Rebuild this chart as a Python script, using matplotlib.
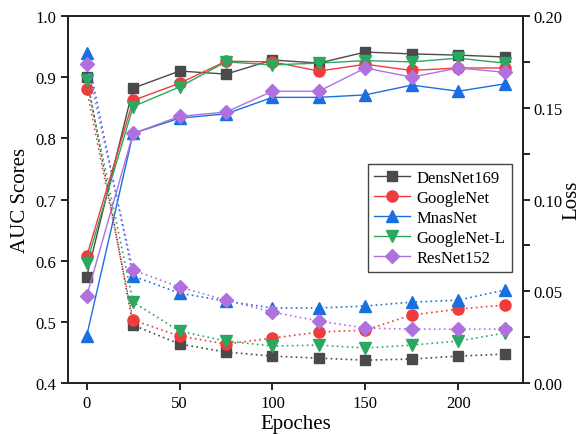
import matplotlib
matplotlib.use("Agg")
import matplotlib.pyplot as plt
from matplotlib.ticker import MultipleLocator

# Данные
epochs = [0, 25, 50, 75, 100, 125, 150, 175, 200, 225]
models = ["DensNet169", "GoogleNet", "MnasNet", "GoogleNet-L", "ResNet152"]

auc_dens = [0.574, 0.882, 0.910, 0.905, 0.928, 0.923, 0.941, 0.938, 0.936, 0.933]
auc_goog = [0.607, 0.862, 0.890, 0.926, 0.925, 0.910, 0.921, 0.911, 0.915, 0.915]
auc_mnas = [0.477, 0.808, 0.833, 0.840, 0.867, 0.867, 0.871, 0.887, 0.877, 0.889]
auc_googl = [0.596, 0.852, 0.884, 0.925, 0.920, 0.923, 0.927, 0.925, 0.931, 0.923]
auc_res = [0.542, 0.808, 0.836, 0.843, 0.877, 0.877, 0.915, 0.900, 0.915, 0.908]

loss_dens = [0.167, 0.0316, 0.0213, 0.0169, 0.0147, 0.0136, 0.0125, 0.0131, 0.0147, 0.0158]
loss_goog = [0.160, 0.0343, 0.0256, 0.0213, 0.0245, 0.0278, 0.0289, 0.0371, 0.0403, 0.0425]
loss_mnas = [0.180, 0.0583, 0.0490, 0.0447, 0.0409, 0.0409, 0.0420, 0.0441, 0.0452, 0.0507]
loss_googl = [0.165, 0.0441, 0.0283, 0.0229, 0.0202, 0.0207, 0.0191, 0.0207, 0.0229, 0.0273]
loss_res = [0.174, 0.0616, 0.0523, 0.0452, 0.0387, 0.0338, 0.0300, 0.0294, 0.0294, 0.0294]

auc_all = [auc_dens, auc_goog, auc_mnas, auc_googl, auc_res]
loss_all = [loss_dens, loss_goog, loss_mnas, loss_googl, loss_res]

colors = ["#4a4a4a", "#f03c3c", "#1a6fe0", "#2aa860", "#b070e0"]
markers = ["s", "o", "^", "v", "D"]
msizes = [7, 8, 8, 8, 7]

plt.rcParams["font.family"] = ["Liberation Serif", "DejaVu Serif"]

fig = plt.figure(figsize=(5.82, 4.35), dpi=100)
ax1 = fig.add_axes([0.117, 0.117, 0.782, 0.844])
ax2 = ax1.twinx()

for i in range(len(models)):
    ax1.plot(epochs, auc_all[i], color=colors[i], marker=markers[i], ms=msizes[i],
             lw=1.0, label=models[i], zorder=3)
    ax2.plot(epochs, loss_all[i], color=colors[i], marker=markers[i], ms=msizes[i],
             lw=1.2, ls=(0, (1, 2)), zorder=3)

ax1.set_xlim(-10, 235)
ax1.set_ylim(0.4, 1.0)
ax2.set_ylim(0.0, 0.20)
ax1.xaxis.set_major_locator(MultipleLocator(50))
ax1.yaxis.set_major_locator(MultipleLocator(0.1))
ax2.yaxis.set_major_locator(MultipleLocator(0.05))
ax2.yaxis.set_minor_locator(MultipleLocator(0.025))
ax2.yaxis.set_major_formatter(matplotlib.ticker.FormatStrFormatter("%.2f"))
ax1.yaxis.set_major_formatter(matplotlib.ticker.FormatStrFormatter("%.1f"))

for ax in (ax1, ax2):
    ax.tick_params(direction="out", width=1.2, length=5, labelsize=12, which="both")
    for s in ax.spines.values():
        s.set_linewidth(1.3)
        s.set_color("#222222")
ax2.tick_params(axis="y", pad=2)

ax1.set_xlabel("Epoches", fontsize=15, labelpad=2)
ax1.set_ylabel("AUC Scores", fontsize=15)
ax2.set_ylabel("Loss", fontsize=15, labelpad=0)

ax2.set_zorder(ax1.get_zorder() + 1)
ax2.patch.set_visible(False)

leg = ax2.legend(*ax1.get_legend_handles_labels(), loc="upper left",
                 bbox_to_anchor=(0.64, 0.62), fontsize=12, fancybox=False,
                 framealpha=1, edgecolor="#444444", handlelength=2.2,
                 borderpad=0.35, labelspacing=0.25, handletextpad=0.4)
leg.get_frame().set_linewidth(1.0)

fig.savefig("out.png", dpi=100)
